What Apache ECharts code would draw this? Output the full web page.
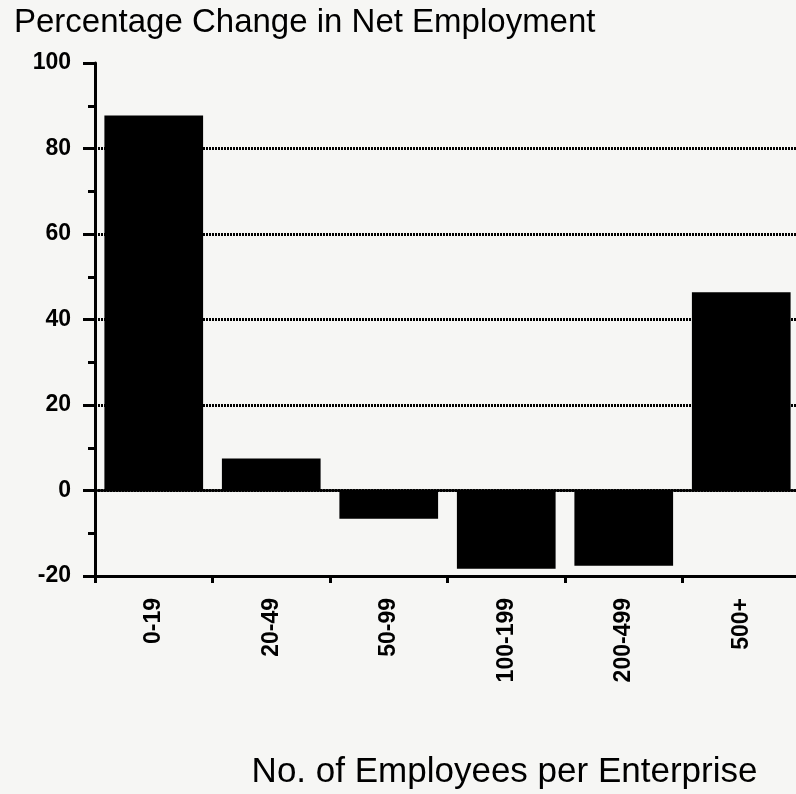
<!DOCTYPE html>
<html>
<head>
<meta charset="utf-8">
<script src="https://cdn.jsdelivr.net/npm/echarts@6/dist/echarts.min.js"></script>
<style>
  html, body { margin: 0; padding: 0; background: #f6f6f4; }
  #chart { width: 796px; height: 794px; }
</style>
</head>
<body>
<div id="chart"></div>
<script>
// categories / values
const categories = ['0-19', '20-49', '50-99', '100-199', '200-499', '500+']
const netChange = [87.7, 7.5, -6.6, -18.3, -17.6, 46.4]
const yMin = -20
const yMax = 100
const yStep = 20

const FONT = '"Liberation Sans", Arial, Helvetica, sans-serif'

const chart = echarts.init(document.getElementById('chart'))

chart.setOption({
  backgroundColor: '#f6f6f4',
  animation: false,
  title: {
    text: 'Percentage Change in Net Employment',
    left: 9,
    top: 1,
    textStyle: { fontFamily: FONT, fontSize: 33, fontWeight: 'normal', color: '#000' },
  },
  // keep the plot box fixed; the right edge runs just past the canvas like the scan
  grid: { left: 95, top: 63, width: 705, height: 513, outerBoundsMode: 'none', containLabel: false },
  xAxis: {
    type: 'category',
    data: categories,
    name: 'No. of Employees per Enterprise',
    nameLocation: 'middle',
    nameGap: 179,
    nameTextStyle: { fontFamily: FONT, fontSize: 35, color: '#000', padding: [0, 0, 0, 114] },
    axisLine: { onZero: false, lineStyle: { color: '#000', width: 3 } },
    axisTick: { show: true, length: 7, lineStyle: { color: '#000', width: 3 } },
    axisLabel: {
      rotate: 90,
      margin: 22,
      fontFamily: FONT,
      fontSize: 23,
      fontWeight: 'bold',
      color: '#000',
    },
  },
  yAxis: {
    type: 'value',
    min: yMin,
    max: yMax,
    interval: yStep,
    axisLine: { show: true, lineStyle: { color: '#000', width: 3 } },
    axisTick: { show: true, length: 12, lineStyle: { color: '#000', width: 3 } },
    minorTick: { show: true, splitNumber: 2, length: 7, lineStyle: { color: '#000', width: 3 } },
    axisLabel: {
      margin: 24,
      fontFamily: FONT,
      fontSize: 23,
      fontWeight: 'bold',
      color: '#000',
    },
    splitLine: {
      show: true,
      showMaxLine: false,
      lineStyle: { color: '#000', width: 3, type: [2, 1] },
    },
  },
  series: [
    {
      type: 'bar',
      data: netChange,
      barWidth: '84%',
      itemStyle: { color: '#000' },
      markLine: {
        silent: true,
        symbol: 'none',
        label: { show: false },
        lineStyle: { color: '#000', width: 2.5, type: 'solid' },
        data: [{ yAxis: 0 }],
      },
    },
  ],
})
</script>
</body>
</html>
